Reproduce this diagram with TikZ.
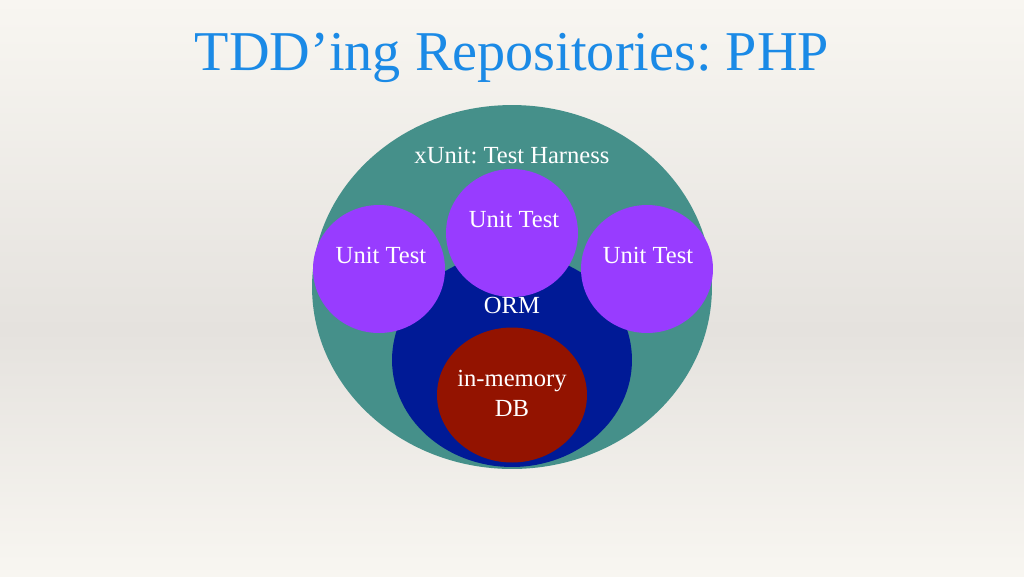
\documentclass[tikz,border=0pt]{standalone}
\usepackage{fontspec}
\setmainfont{Liberation Serif}
\usepackage{xcolor}
\usetikzlibrary{shapes.geometric}
\frenchspacing

\definecolor{bgtop}{RGB}{248,246,241}
\definecolor{bgmid}{RGB}{229,226,222}
\definecolor{titleblue}{RGB}{27,138,230}
\definecolor{harness}{RGB}{69,144,138}
\definecolor{orm}{RGB}{0,26,150}
\definecolor{db}{RGB}{147,19,0}
\definecolor{unit}{RGB}{152,60,255}

\begin{document}
\begin{tikzpicture}[x=0.02cm, y=-0.02cm,
    blob/.style={ellipse, inner sep=0pt},
    lbl/.style={text=white, font=\fontsize{14}{17}\selectfont, anchor=base}]
        \useasboundingbox (0,0) rectangle (1024,576);
        \shade [top color=bgtop, bottom color=bgmid] (0,0) rectangle (1024,330);
        \shade [top color=bgmid, bottom color=bgtop] (0,330) rectangle (1024,576);

        \node [text=titleblue, font=\fontsize{32}{38}\selectfont, anchor=base] (title) at (512,70) {TDD’ing Repositories: PHP};

        \node [blob, fill=harness, minimum width=8cm, minimum height=7.28cm] (harness) at (512,287) {};
        \node [blob, fill=orm, minimum width=4.8cm, minimum height=4.28cm] (orm) at (512,360) {};
        \node [blob, fill=db, minimum width=3cm, minimum height=2.7cm] (db) at (512,395) {};
        \node [blob, fill=unit, minimum width=2.64cm, minimum height=2.56cm] (unitL) at (379,269) {};
        \node [blob, fill=unit, minimum width=2.64cm, minimum height=2.56cm] (unitM) at (512,233) {};
        \node [blob, fill=unit, minimum width=2.64cm, minimum height=2.56cm] (unitR) at (647,269) {};

        \node [lbl] (harnessTxt) at (512,163) {xUnit: Test Harness};
        \node [lbl] (unitLTxt) at (381,263) {Unit Test};
        \node [lbl] (unitMTxt) at (514,227) {Unit Test};
        \node [lbl] (unitRTxt) at (648,263) {Unit Test};
        \node [lbl] (ormTxt) at (512,313) {ORM};
        \node [lbl, anchor=center, align=center] (dbTxt) at (512,393) {in-memory\\DB};
    \end{tikzpicture}
\end{document}
